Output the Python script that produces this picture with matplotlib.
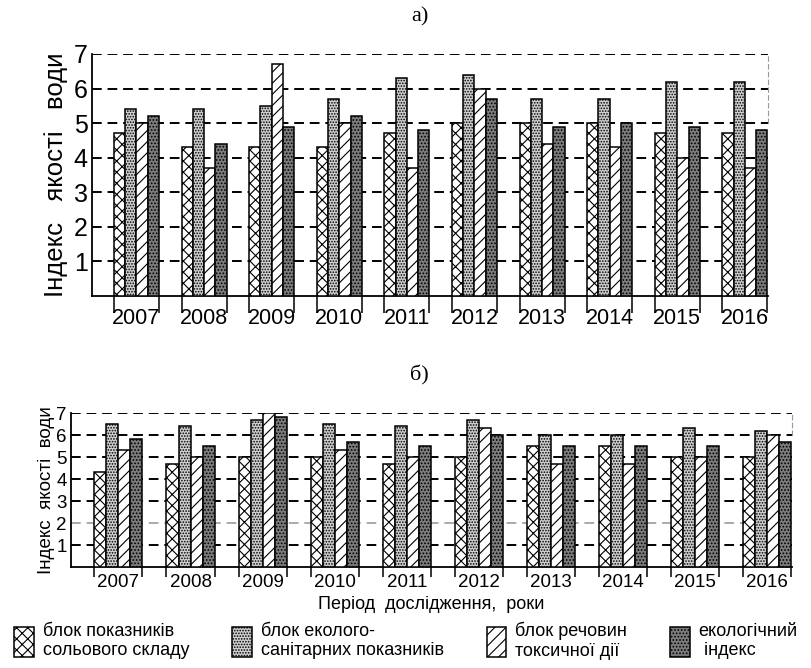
import matplotlib.pyplot as plt
import numpy as np

plt.rcParams['font.family'] = ['Liberation Sans', 'DejaVu Sans']
plt.rcParams['hatch.linewidth'] = 0.8

years = ['2007', '2008', '2009', '2010', '2011', '2012', '2013', '2014', '2015', '2016']

# а) верхній графік
a_salt = [4.7, 4.3, 4.3, 4.3, 4.7, 5.0, 5.0, 5.0, 4.7, 4.7]
a_sanit = [5.4, 5.4, 5.5, 5.7, 6.3, 6.4, 5.7, 5.7, 6.2, 6.2]
a_toxic = [5.0, 3.7, 6.7, 5.0, 3.7, 6.0, 4.4, 4.3, 4.0, 3.7]
a_eco = [5.2, 4.4, 4.9, 5.2, 4.8, 5.7, 4.9, 5.0, 4.9, 4.8]

# б) нижній графік
b_salt = [4.3, 4.7, 5.0, 5.0, 4.7, 5.0, 5.5, 5.5, 5.0, 5.0]
b_sanit = [6.5, 6.4, 6.7, 6.5, 6.4, 6.7, 6.0, 6.0, 6.3, 6.2]
b_toxic = [5.3, 5.0, 7.0, 5.3, 5.0, 6.3, 4.7, 4.7, 5.0, 6.0]
b_eco = [5.8, 5.5, 6.8, 5.7, 5.5, 6.0, 5.5, 5.5, 5.5, 5.7]

labels = ['блок показників\nсольового складу', 'блок еколого-\nсанітарних показників',
          'блок речовин\nтоксичної дії', 'екологічний\n індекс']
styles = [dict(facecolor='white', hatch='xxx'),
          dict(facecolor='#cfcfcf', hatch='......'),
          dict(facecolor='white', hatch='///'),
          dict(facecolor='#7c7c7c', hatch='.....')]

w = 1 / 6
x = np.arange(len(years))


def draw(ax, series, xsize, ysize, pad, edge_len, right_from):
    for k, vals in enumerate(series):
        ax.bar(x + (k - 1.5) * w, vals, w, edgecolor='black', linewidth=1.1,
               zorder=3, label=labels[k], **styles[k])
    ax.set_xlim(-0.658, 9.342)
    ax.set_ylim(0, 7)
    ax.set_yticks(range(1, 8))
    ax.grid(axis='y', linestyle=(0, (5, 3)), color='black', linewidth=1.4, zorder=0)
    ax.set_xticks(x)
    ax.set_xticklabels(years)
    edges = np.concatenate([x - 2 * w, x + 2 * w])
    ax.set_xticks(edges, minor=True)
    ax.tick_params(axis='x', which='major', length=0, pad=pad, labelsize=xsize)
    ax.tick_params(axis='x', which='minor', length=edge_len, width=1.1, direction='out')
    ax.tick_params(axis='y', length=0, pad=3, labelsize=ysize)
    ax.spines['top'].set_visible(False)
    ax.spines['right'].set_linestyle((0, (4, 3)))
    ax.spines['right'].set_color('#999999')
    ax.spines['right'].set_bounds(right_from, 7)
    for s in ['left', 'bottom']:
        ax.spines[s].set_linewidth(1.3)


fig = plt.figure(figsize=(8.12, 6.68), dpi=100)

ax1 = fig.add_axes([0.1133, 0.5569, 0.8325, 0.3623])
draw(ax1, [a_salt, a_sanit, a_toxic, a_eco], 15.5, 18, 9, 12, 5)
ax1.set_ylabel('Індекс   якості   води', fontsize=18.5, labelpad=4)
fig.text(0.517, 0.975, 'а)', family='Liberation Serif', fontsize=16, ha='center', va='center')

ax2 = fig.add_axes([0.0874, 0.1512, 0.888, 0.2305])
draw(ax2, [b_salt, b_sanit, b_toxic, b_eco], 13.5, 13.5, 5, 7, 6)
ax2.get_ygridlines()[1].set_color('#aaaaaa')
ax2.set_ylabel('Індекс  якості  води', fontsize=13.5, labelpad=1)
ax2.set_xlabel('Період  дослідження,  роки', fontsize=13, labelpad=4)
fig.text(0.517, 0.438, 'б)', family='Liberation Serif', fontsize=16, ha='center', va='center')

h, l = ax2.get_legend_handles_labels()
fig.legend(h, l, loc='lower center', bbox_to_anchor=(0.5, -0.012), ncol=4, frameon=False,
           fontsize=13, handlelength=1.1, handleheight=2.2, handletextpad=0.5,
           columnspacing=2.35, labelspacing=0)

fig.savefig('out.png', dpi=100)
